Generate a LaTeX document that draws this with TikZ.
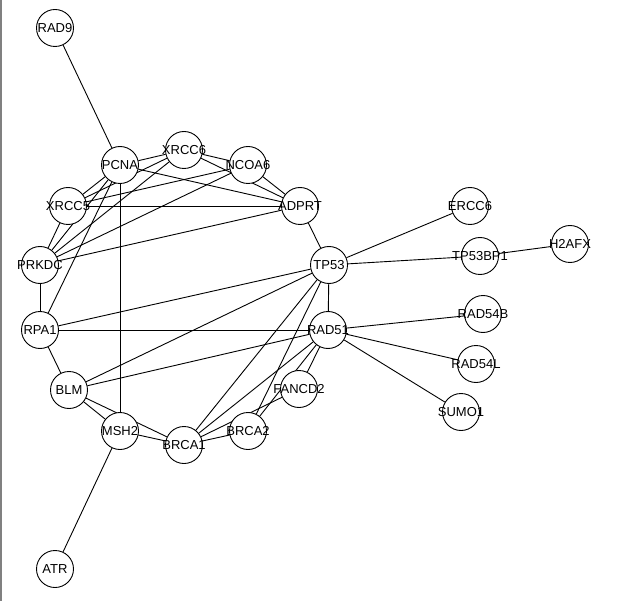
\documentclass[tikz,border=0pt]{standalone}
\usepackage{fontspec}
\setmainfont{Liberation Sans}
\usetikzlibrary{backgrounds}

\newcommand{\gname}[1]{\makebox[0pt]{#1}}

\begin{document}
\begin{tikzpicture}[x=1pt, y=-1pt,
	gene/.style={circle, draw, fill=white, line width=0.9pt, minimum size=37pt, inner sep=0pt, font=\fontsize{13}{13}\selectfont},
	link/.style={line width=0.9pt}]
	\useasboundingbox (0,0) rectangle (644,601);
	\draw[gray, line width=2pt] (1,0) -- (1,601);

	\node[gene] (rad9)    at (55,28)   {\gname{RAD9}};
	\node[gene] (pcna)    at (120,165) {\gname{PCNA}};
	\node[gene] (xrcc6)   at (184,150) {\gname{XRCC6}};
	\node[gene] (ncoa6)   at (248,165) {\gname{NCOA6}};
	\node[gene] (xrcc5)   at (68,206)  {\gname{XRCC5}};
	\node[gene] (adprt)   at (300,206) {\gname{ADPRT}};
	\node[gene] (prkdc)   at (40,265)  {\gname{PRKDC}};
	\node[gene] (tp53)    at (329,265) {\gname{TP53}};
	\node[gene] (rpa1)    at (40,330)  {\gname{RPA1}};
	\node[gene] (rad51)   at (328,330) {\gname{RAD51}};
	\node[gene] (blm)     at (69,390)  {\gname{BLM}};
	\node[gene] (fancd2)  at (299,389) {\gname{FANCD2}};
	\node[gene] (msh2)    at (120,431) {\gname{MSH2}};
	\node[gene] (brca2)   at (248,431) {\gname{BRCA2}};
	\node[gene] (brca1)   at (184,445) {\gname{BRCA1}};
	\node[gene] (ercc6)   at (470,206) {\gname{ERCC6}};
	\node[gene] (tp53bp1) at (480,256) {\gname{TP53BP1}};
	\node[gene] (h2afx)   at (570,244) {\gname{H2AFX}};
	\node[gene] (rad54b)  at (483,314) {\gname{RAD54B}};
	\node[gene] (rad54l)  at (476,364) {\gname{RAD54L}};
	\node[gene] (sumo1)   at (461,412) {\gname{SUMO1}};
	\node[gene] (atr)     at (55,569)  {\gname{ATR}};

	\begin{pgfonlayer}{background}
	\path[link] (rad9) edge (pcna);
	\path[link] (pcna) edge (xrcc6);
	\path[link] (pcna) edge (xrcc5);
	\path[link] (pcna) edge (prkdc);
	\path[link] (pcna) edge (rpa1);
	\path[link] (pcna) edge (msh2);
	\path[link] (pcna) edge (adprt);
	\path[link] (xrcc6) edge (xrcc5);
	\path[link] (xrcc6) edge (prkdc);
	\path[link] (xrcc6) edge (ncoa6);
	\path[link] (xrcc6) edge (adprt);
	\path[link] (xrcc5) edge (prkdc);
	\path[link] (xrcc5) edge (ncoa6);
	\path[link] (xrcc5) edge (adprt);
	\path[link] (ncoa6) edge (prkdc);
	\path[link] (ncoa6) edge (adprt);
	\path[link] (prkdc) edge (adprt);
	\path[link] (prkdc) edge (rpa1);
	\path[link] (adprt) edge (tp53);
	\path[link] (tp53) edge (rad51);
	\path[link] (tp53) edge (ercc6);
	\path[link] (tp53) edge (tp53bp1);
	\path[link] (tp53) edge (rpa1);
	\path[link] (tp53) edge (blm);
	\path[link] (tp53) edge (brca1);
	\path[link] (tp53) edge (brca2);
	\path[link] (tp53bp1) edge (h2afx);
	\path[link] (rad51) edge (rpa1);
	\path[link] (rad51) edge (blm);
	\path[link] (rad51) edge (brca1);
	\path[link] (rad51) edge (brca2);
	\path[link] (rad51) edge (fancd2);
	\path[link] (rad51) edge (rad54b);
	\path[link] (rad51) edge (rad54l);
	\path[link] (rad51) edge (sumo1);
	\path[link] (rpa1) edge (blm);
	\path[link] (blm) edge (msh2);
	\path[link] (blm) edge (brca1);
	\path[link] (msh2) edge (brca1);
	\path[link] (msh2) edge (atr);
	\path[link] (brca1) edge (brca2);
	\path[link] (brca1) edge (fancd2);
	\end{pgfonlayer}
\end{tikzpicture}
\end{document}
